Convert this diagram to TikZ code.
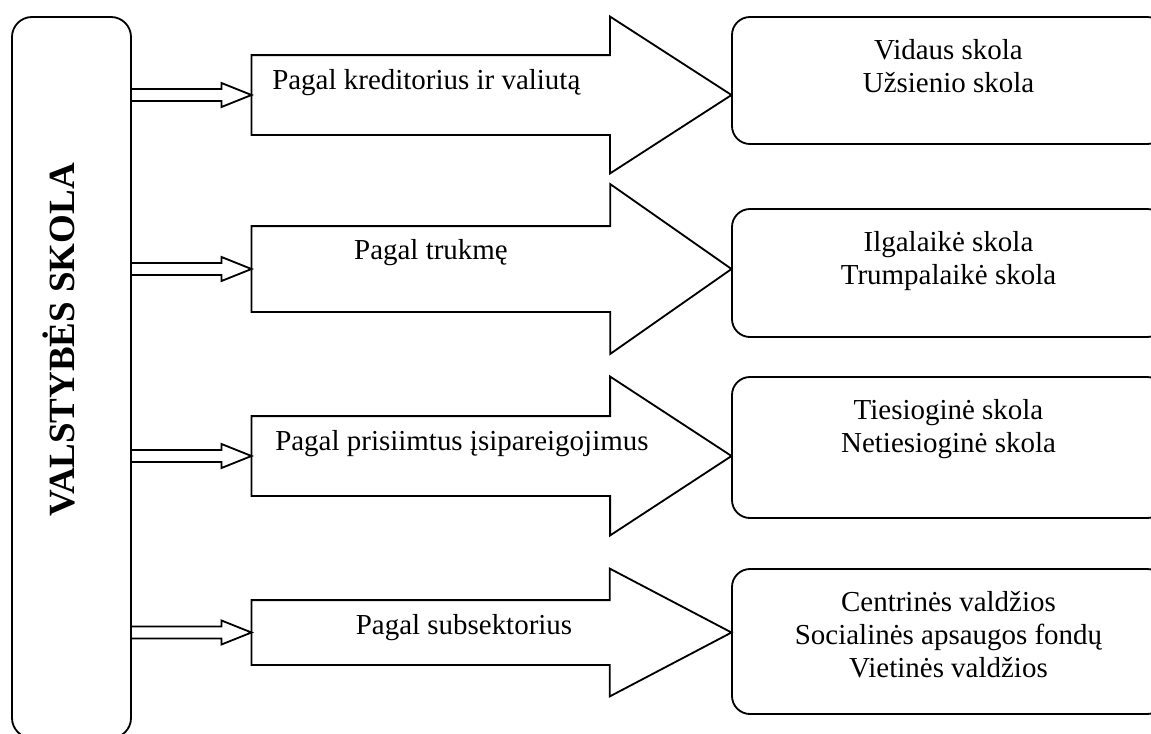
\documentclass[tikz,border=0pt]{standalone}
\usepackage{fontspec}
\setmainfont{Liberation Serif}
\usetikzlibrary{positioning,shapes.arrows,calc}
\tikzset{vbox/.style={draw,rounded corners=5mm,line width=1.3pt,minimum width=29.75mm,minimum height=180.25mm,inner sep=0pt},
	 bigarr/.style={draw,single arrow,line width=1.3pt,inner xsep=0pt,outer sep=0pt,anchor=tail,minimum height=120mm},
	 rbox/.style={draw,rounded corners=4.5mm,line width=1.3pt,minimum width=108.25mm,inner sep=0pt},
	 lbl/.style={inner sep=0pt,align=center,font=\fontsize{20.6}{23.5}\selectfont},
	 ttl/.style={inner sep=0pt,rotate=90,anchor=base,font=\fontsize{26.3}{30}\selectfont\bfseries},
	 hol/.style={line width=1.3pt}
	 }
% hollow arrow from the left box to a big arrow
\newcommand{\hollowarr}[2]{\draw[hol] ($(#1.east |- #2.tail)+(0,-6)$) -- ($(#2.tail)+(-30,-6)$) -- ++(0,-6) -- (#2.tail) -- ($(#2.tail)+(-30,12)$) -- ++(0,-6) -- ($(#1.east |- #2.tail)+(0,6)$);}

\begin{document}
\begin{tikzpicture}[x=0.25mm,y=-0.25mm] % valstybes skolos klasifikacija
	\useasboundingbox (0,0) rectangle (1151,733);
	\clip (0,0) rectangle (1151,733);
	\node[vbox] (vs) at (71.5,377.5) {};
	\node[ttl] (vst) at (74,340) {VALSTYBĖS SKOLA};
	\node[bigarr,inner ysep=9.75mm,single arrow head extend=9.625mm,single arrow tip angle=65.7] (b1) at (251.5,95) {};
	\node[bigarr,inner ysep=10.5mm,single arrow head extend=10.5mm,single arrow tip angle=70] (b2) at (251.5,269) {};
	\node[bigarr,inner ysep=9.75mm,single arrow head extend=9.875mm,single arrow tip angle=66.4] (b3) at (251.5,456) {};
	\node[bigarr,inner ysep=7.875mm,single arrow head extend=7.875mm,single arrow tip angle=55.4] (b4) at (251.5,632.5) {};
	\node[lbl,anchor=base west] (t1) at (272,89) {Pagal kreditorius ir valiutą};
	\node[lbl,anchor=base] (t2) at (431,259) {Pagal trukmę};
	\node[lbl,anchor=base west] (t3) at (275,450) {Pagal prisiimtus įsipareigojimus};
	\node[lbl,anchor=base] (t4) at (464,634) {Pagal subsektorius};
	\node[rbox,minimum height=31.75mm] (r1) at (948.5,80.5) {};
	\node[rbox,minimum height=32mm] (r2) at (948.5,273) {};
	\node[rbox,minimum height=35.25mm] (r3) at (948.5,447.5) {};
	\node[rbox,minimum height=36.25mm] (r4) at (948.5,641.5) {};
	\node[lbl,below=5.75mm of r1.north] (s1) {Vidaus skola\\Užsienio skola};
	\node[lbl,below=5.75mm of r2.north] (s2) {Ilgalaikė skola\\Trumpalaikė skola};
	\node[lbl,below=5.75mm of r3.north] (s3) {Tiesioginė skola\\Netiesioginė skola};
	\node[lbl,below=5.75mm of r4.north] (s4) {Centrinės valdžios\\Socialinės apsaugos fondų\\Vietinės valdžios};
	\hollowarr{vs}{b1}
	\hollowarr{vs}{b2}
	\hollowarr{vs}{b3}
	\hollowarr{vs}{b4}
\end{tikzpicture}
\end{document}
